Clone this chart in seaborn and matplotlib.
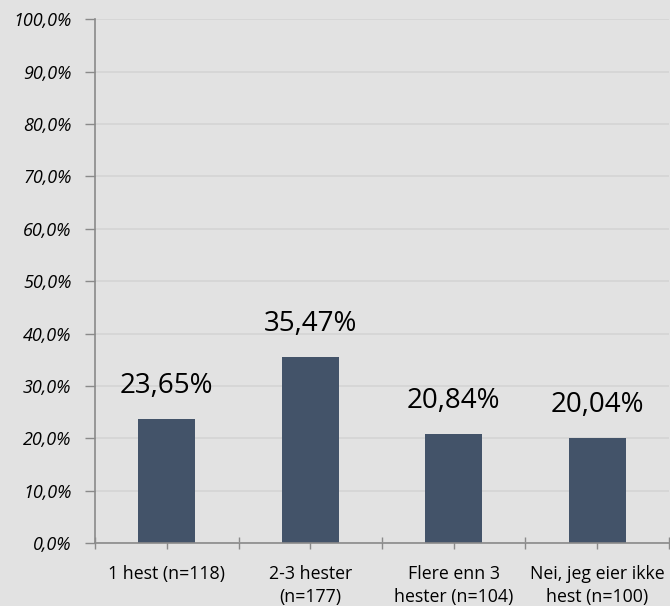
import matplotlib
matplotlib.use("Agg")
import matplotlib.pyplot as plt
import seaborn as sns
import pandas as pd
from matplotlib.ticker import FixedLocator

categories = ["1 hest (n=118)", "2-3 hester\n(n=177)", "Flere enn 3\nhester (n=104)", "Nei, jeg eier ikke\nhest (n=100)"]
values = [23.65, 35.47, 20.84, 20.04]
value_labels = ["23,65%", "35,47%", "20,84%", "20,04%"]
yticks = [0, 10, 20, 30, 40, 50, 60, 70, 80, 90, 100]

bg = "#e2e2e2"
bar_color = "#435369"
axis_color = "#8a8a8a"
grid_color = "#d4d4d4"

sns.set_theme(style="white")
plt.rcParams['font.family'] = ['Open Sans', 'DejaVu Sans']

df = pd.DataFrame({"cat": categories, "val": values})

fig = plt.figure(figsize=(6.70, 6.06), dpi=100, facecolor=bg)
ax = fig.add_axes([0.1418, 0.104, 0.8567, 0.864])
ax.set_facecolor(bg)

sns.barplot(data=df, x="cat", y="val", color=bar_color, width=0.4, ax=ax,
            saturation=1, edgecolor=bar_color, linewidth=0)

ax.set_ylim(0, 100)
ax.set_xlim(-0.5, len(categories) - 0.5)
ax.set_yticks(yticks)
ax.set_yticklabels([f"{v:.1f}%".replace(".", ",") for v in yticks], fontstyle="italic", fontsize=13)
ax.yaxis.grid(True, color=grid_color, linewidth=1.2)
ax.set_axisbelow(True)

for i, (v, lab) in enumerate(zip(values, value_labels)):
    ax.text(i, v + 3.6, lab, ha="center", va="bottom", fontsize=20, color="black")

ax.set_xlabel("")
ax.set_ylabel("")
ax.set_xticks(range(len(categories)))
ax.set_xticklabels(categories, fontsize=12.8, color="black", linespacing=1.4)
ax.xaxis.set_minor_locator(FixedLocator([i - 0.5 for i in range(len(categories) + 1)]))
ax.tick_params(axis="x", which="both", bottom=True, direction="inout", length=9,
               color=axis_color, width=1, pad=11)
ax.tick_params(axis="y", which="major", left=True, direction="out", length=7,
               color=axis_color, width=1, pad=10)
ax.tick_params(axis="both", which="both", labelcolor="black")

for s in ["top", "right"]:
    ax.spines[s].set_visible(False)
for s in ["left", "bottom"]:
    ax.spines[s].set_color(axis_color)
    ax.spines[s].set_linewidth(1.2)

fig.savefig("out.png", dpi=100, facecolor=bg)
